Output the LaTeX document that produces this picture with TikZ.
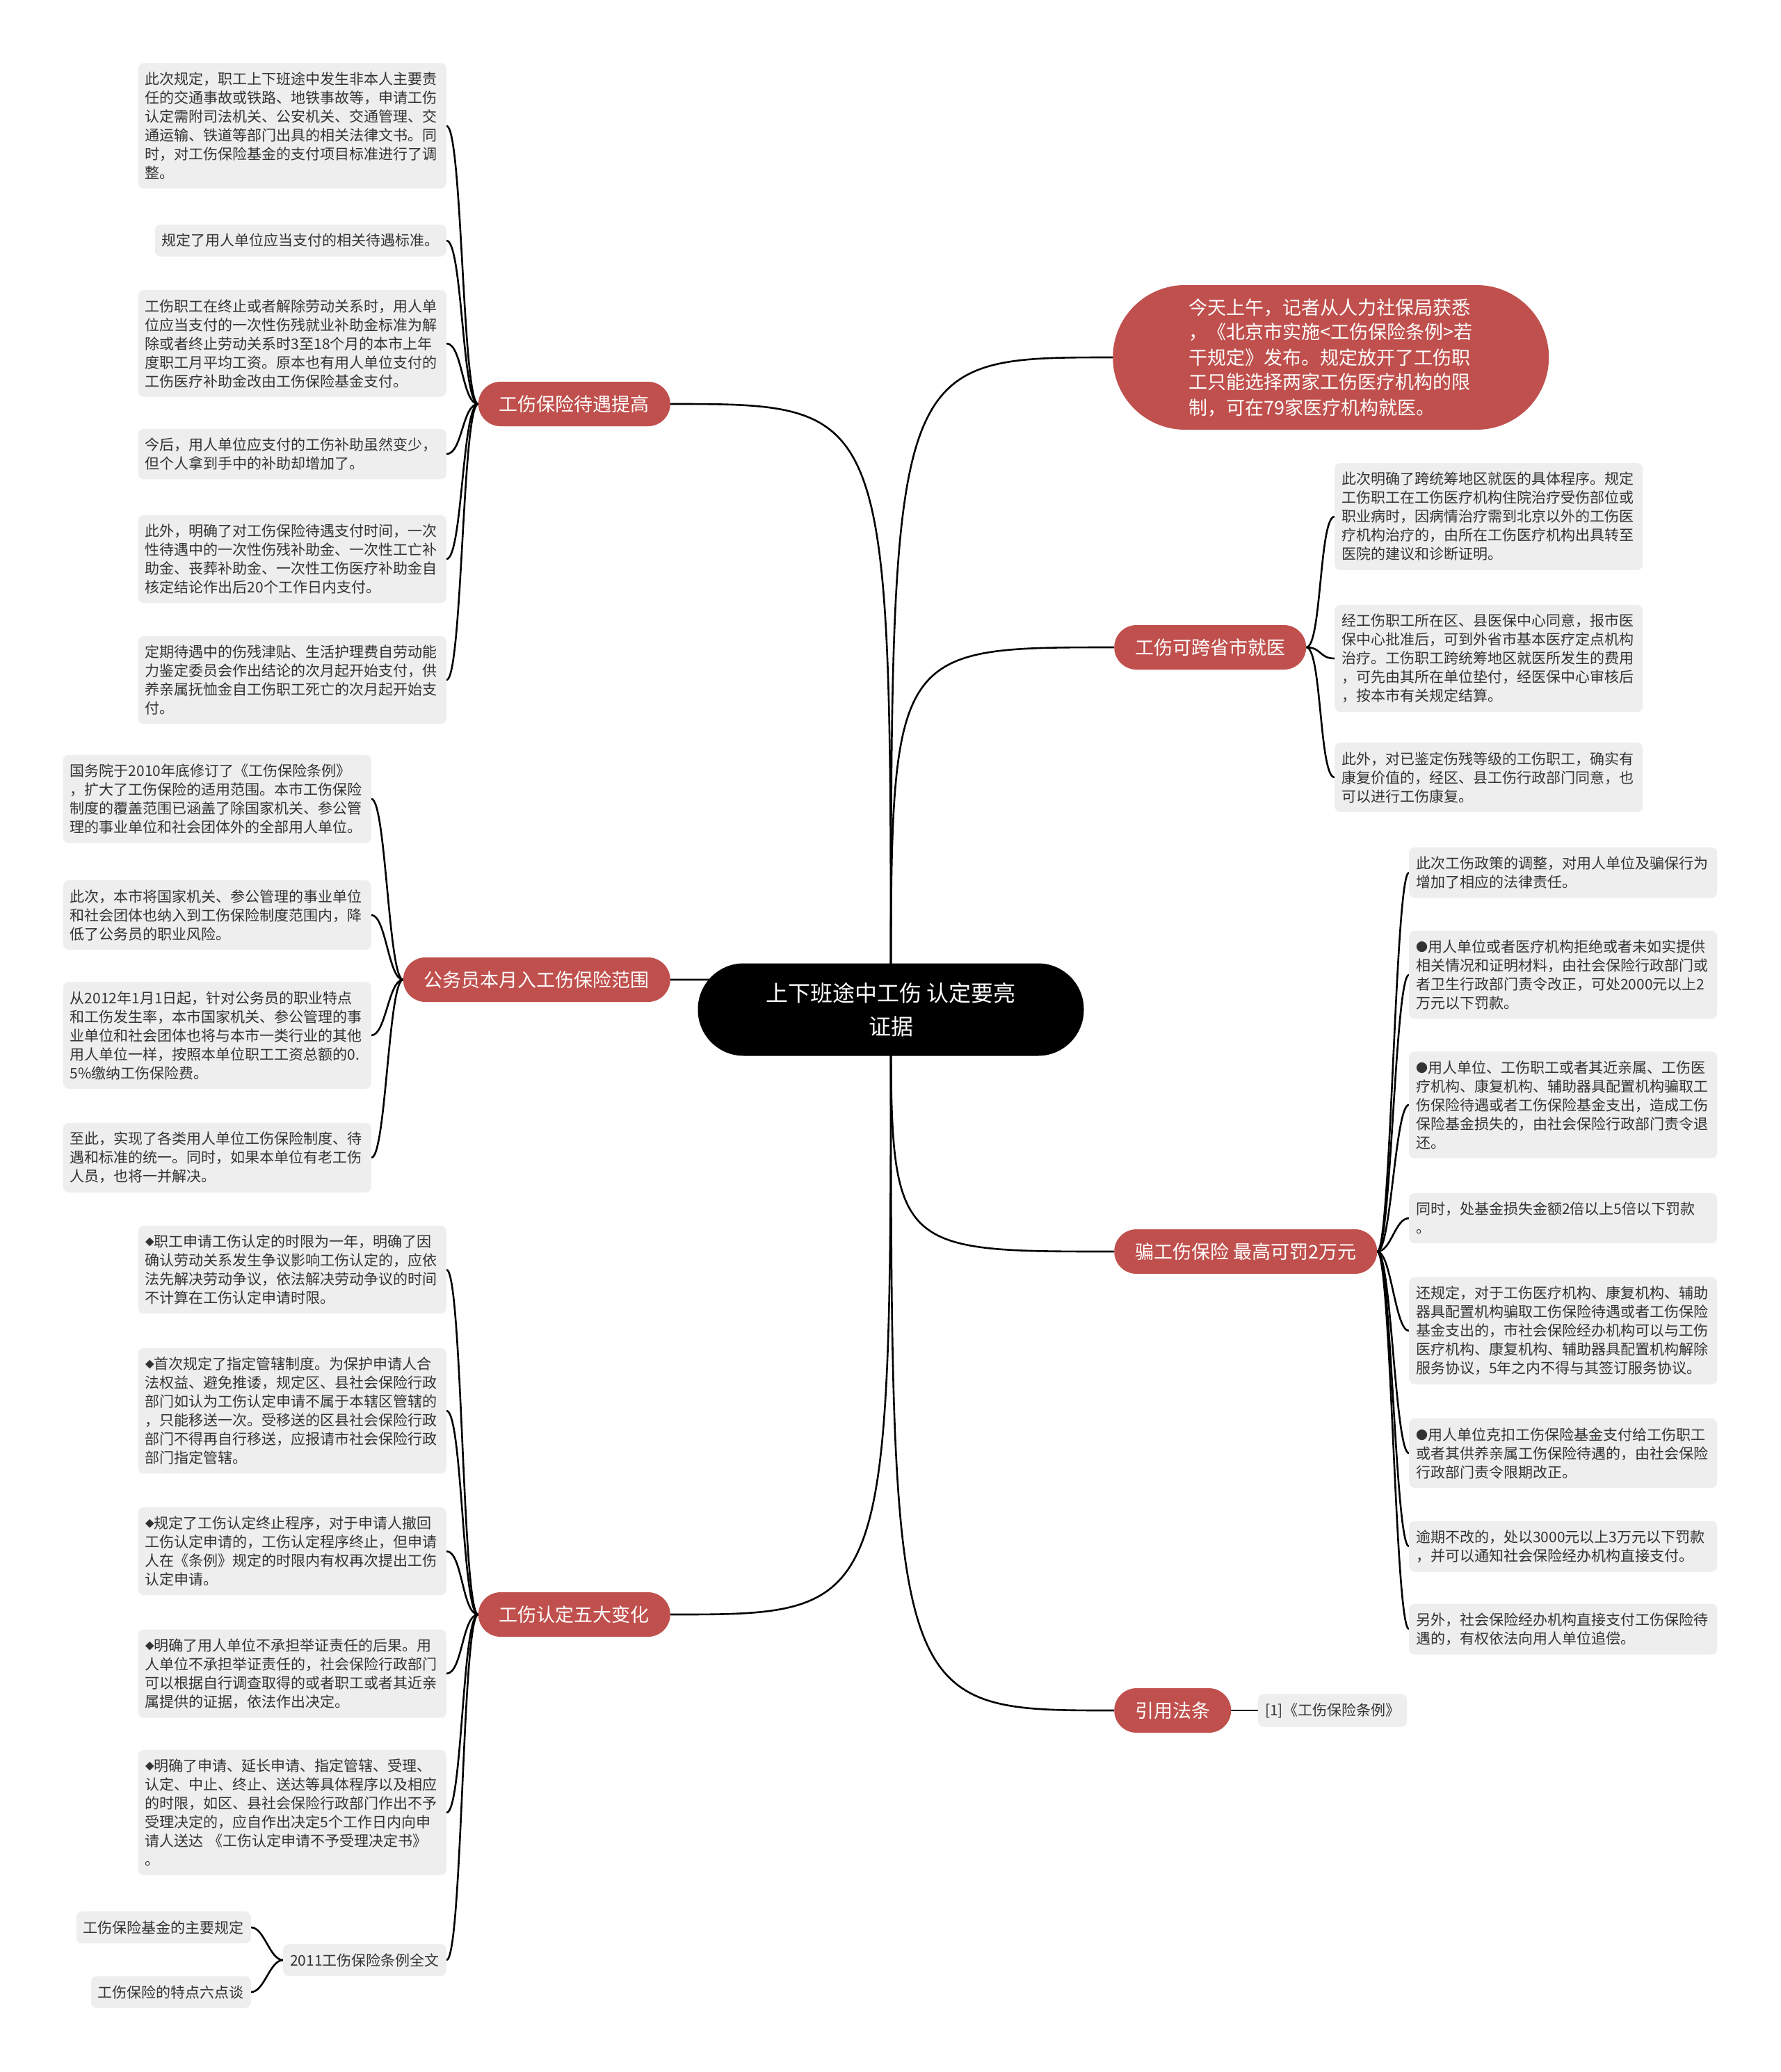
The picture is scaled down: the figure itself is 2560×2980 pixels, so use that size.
\documentclass[tikz,border=0pt]{standalone}
\usepackage{fontspec}
\setmainfont{Noto Sans CJK SC}
\usetikzlibrary{backgrounds}
\definecolor{topicred}{HTML}{C0504D}
\definecolor{leafgray}{HTML}{EEEEEE}
\definecolor{leafink}{HTML}{333333}
\newcommand{\dmd}{\raisebox{2pt}{\fontsize{13}{13}\selectfont ◆}}
\newcommand{\dotb}{\raisebox{1pt}{\fontsize{17}{17}\selectfont ●}}
\begin{document}
\begin{tikzpicture}[
  x=1pt, y=-1pt,
  root/.style={fill=black, text=white, rounded corners=66pt, minimum width=555pt,
               minimum height=133pt, align=center, font=\fontsize{32}{48}\selectfont},
  topic/.style={fill=topicred, text=white, rounded corners=32pt, minimum height=64pt,
                inner xsep=30pt, font=\fontsize{27}{36}\selectfont},
  note/.style={fill=leafgray, text=leafink, rounded corners=8pt, inner xsep=10pt,
               inner ysep=13pt, font=\fontsize{21}{27}\selectfont},
  leaf/.style={note, text width=423pt, align=left},
  link/.style={line width=2.6pt, black},
]
\useasboundingbox (0,0) rectangle (2560,2980);
\node[root] (root) at (1281,1452) {上下班途中工伤 认定要亮\\证据};

\node[topic, anchor=west, rounded corners=104pt, minimum width=627pt, minimum height=208pt, align=left]
  (news) at (1600,514) {今天上午，记者从人力社保局获悉\\，《北京市实施<工伤保险条例>若\\干规定》发布。规定放开了工伤职\\工只能选择两家工伤医疗机构的限\\制，可在79家医疗机构就医。};
\node[topic, anchor=west] (clinic)  at (1602,931)  {工伤可跨省市就医};
\node[topic, anchor=west] (fraud)   at (1602,1800) {骗工伤保险 最高可罚2万元};
\node[topic, anchor=west] (cite)    at (1602,2460) {引用法条};
\node[topic, anchor=east] (benefit) at (964,581)   {工伤保险待遇提高};
\node[topic, anchor=east] (civil)   at (964,1409)  {公务员本月入工伤保险范围};
\node[topic, anchor=east] (ident)   at (964,2322)  {工伤认定五大变化};

\node[leaf, anchor=east] (ben1) at (642,181) {此次规定，职工上下班途中发生非本人主要责\\任的交通事故或铁路、地铁事故等，申请工伤\\认定需附司法机关、公安机关、交通管理、交\\通运输、铁道等部门出具的相关法律文书。同\\时，对工伤保险基金的支付项目标准进行了调\\整。};
\node[note, anchor=east] (ben2) at (642,346) {规定了用人单位应当支付的相关待遇标准。};
\node[leaf, anchor=east] (ben3) at (642,494) {工伤职工在终止或者解除劳动关系时，用人单\\位应当支付的一次性伤残就业补助金标准为解\\除或者终止劳动关系时3至18个月的本市上年\\度职工月平均工资。原本也有用人单位支付的\\工伤医疗补助金改由工伤保险基金支付。};
\node[leaf, anchor=east] (ben4) at (642,653) {今后，用人单位应支付的工伤补助虽然变少，\\但个人拿到手中的补助却增加了。};
\node[leaf, anchor=east] (ben5) at (642,804) {此外，明确了对工伤保险待遇支付时间，一次\\性待遇中的一次性伤残补助金、一次性工亡补\\助金、丧葬补助金、一次性工伤医疗补助金自\\核定结论作出后20个工作日内支付。};
\node[leaf, anchor=east] (ben6) at (642,978) {定期待遇中的伤残津贴、生活护理费自劳动能\\力鉴定委员会作出结论的次月起开始支付，供\\养亲属抚恤金自工伤职工死亡的次月起开始支\\付。};

\node[leaf, anchor=east] (civ1) at (534,1149) {国务院于2010年底修订了《工伤保险条例》\\，扩大了工伤保险的适用范围。本市工伤保险\\制度的覆盖范围已涵盖了除国家机关、参公管\\理的事业单位和社会团体外的全部用人单位。};
\node[leaf, anchor=east] (civ2) at (534,1316) {此次，本市将国家机关、参公管理的事业单位\\和社会团体也纳入到工伤保险制度范围内，降\\低了公务员的职业风险。};
\node[leaf, anchor=east] (civ3) at (534,1489) {从2012年1月1日起，针对公务员的职业特点\\和工伤发生率，本市国家机关、参公管理的事\\业单位和社会团体也将与本市一类行业的其他\\用人单位一样，按照本单位职工工资总额的0.\\5\%缴纳工伤保险费。};
\node[leaf, anchor=east] (civ4) at (534,1665) {至此，实现了各类用人单位工伤保险制度、待\\遇和标准的统一。同时，如果本单位有老工伤\\人员，也将一并解决。};

\node[leaf, anchor=east] (idt1) at (642,1826) {\dmd 职工申请工伤认定的时限为一年，明确了因\\确认劳动关系发生争议影响工伤认定的，应依\\法先解决劳动争议，依法解决劳动争议的时间\\不计算在工伤认定申请时限。};
\node[leaf, anchor=east] (idt2) at (642,2029) {\dmd 首次规定了指定管辖制度。为保护申请人合\\法权益、避免推诿，规定区、县社会保险行政\\部门如认为工伤认定申请不属于本辖区管辖的\\，只能移送一次。受移送的区县社会保险行政\\部门不得再自行移送，应报请市社会保险行政\\部门指定管辖。};
\node[leaf, anchor=east] (idt3) at (642,2231) {\dmd 规定了工伤认定终止程序，对于申请人撤回\\工伤认定申请的，工伤认定程序终止，但申请\\人在《条例》规定的时限内有权再次提出工伤\\认定申请。};
\node[leaf, anchor=east] (idt4) at (642,2407) {\dmd 明确了用人单位不承担举证责任的后果。用\\人单位不承担举证责任的，社会保险行政部门\\可以根据自行调查取得的或者职工或者其近亲\\属提供的证据，依法作出决定。};
\node[leaf, anchor=east] (idt5) at (642,2607) {\dmd 明确了申请、延长申请、指定管辖、受理、\\认定、中止、终止、送达等具体程序以及相应\\的时限，如区、县社会保险行政部门作出不予\\受理决定的，应自作出决定5个工作日内向申\\请人送达 《工伤认定申请不予受理决定书》\\。};
\node[note, anchor=east] (idt6) at (642,2819) {2011工伤保险条例全文};
\node[note, anchor=east] (law1) at (361,2772) {工伤保险基金的主要规定};
\node[note, anchor=east] (law2) at (361,2865) {工伤保险的特点六点谈};

\node[leaf, anchor=west] (cli1) at (1919,743) {此次明确了跨统筹地区就医的具体程序。规定\\工伤职工在工伤医疗机构住院治疗受伤部位或\\职业病时，因病情治疗需到北京以外的工伤医\\疗机构治疗的，由所在工伤医疗机构出具转至\\医院的建议和诊断证明。};
\node[leaf, anchor=west] (cli2) at (1919,947) {经工伤职工所在区、县医保中心同意，报市医\\保中心批准后，可到外省市基本医疗定点机构\\治疗。工伤职工跨统筹地区就医所发生的费用\\，可先由其所在单位垫付，经医保中心审核后\\，按本市有关规定结算。};
\node[leaf, anchor=west] (cli3) at (1919,1118) {此外，对已鉴定伤残等级的工伤职工，确实有\\康复价值的，经区、县工伤行政部门同意，也\\可以进行工伤康复。};

\node[leaf, anchor=west] (frd1) at (2026,1255) {此次工伤政策的调整，对用人单位及骗保行为\\增加了相应的法律责任。};
\node[leaf, anchor=west] (frd2) at (2026,1402) {\dotb 用人单位或者医疗机构拒绝或者未如实提供\\相关情况和证明材料，由社会保险行政部门或\\者卫生行政部门责令改正，可处2000元以上2\\万元以下罚款。};
\node[leaf, anchor=west] (frd3) at (2026,1589) {\dotb 用人单位、工伤职工或者其近亲属、工伤医\\疗机构、康复机构、辅助器具配置机构骗取工\\伤保险待遇或者工伤保险基金支出，造成工伤\\保险基金损失的，由社会保险行政部门责令退\\还。};
\node[leaf, anchor=west] (frd4) at (2026,1752) {同时，处基金损失金额2倍以上5倍以下罚款\\。};
\node[leaf, anchor=west] (frd5) at (2026,1914) {还规定，对于工伤医疗机构、康复机构、辅助\\器具配置机构骗取工伤保险待遇或者工伤保险\\基金支出的，市社会保险经办机构可以与工伤\\医疗机构、康复机构、辅助器具配置机构解除\\服务协议，5年之内不得与其签订服务协议。};
\node[leaf, anchor=west] (frd6) at (2026,2090) {\dotb 用人单位克扣工伤保险基金支付给工伤职工\\或者其供养亲属工伤保险待遇的，由社会保险\\行政部门责令限期改正。};
\node[leaf, anchor=west] (frd7) at (2026,2224) {逾期不改的，处以3000元以上3万元以下罚款\\，并可以通知社会保险经办机构直接支付。};
\node[leaf, anchor=west] (frd8) at (2026,2343) {另外，社会保险经办机构直接支付工伤保险待\\遇的，有权依法向用人单位追偿。};

\node[note, anchor=west] (act1) at (1809,2460) {[1]《工伤保险条例》};

\begin{scope}[on background layer]
\fill[white] (0,0) rectangle (2560,2980);
\foreach \t/\a in {news/west, clinic/west, fraud/west, cite/west, benefit/east, civil/east, ident/east}
  \draw[link] (root.center) .. controls (root.center |- \t.\a) and (root.center |- \t.\a) .. (\t.\a);
\foreach \i in {1,...,6}
  \draw[link] (benefit.west) to[out=180, in=0, distance=23pt] (ben\i.east);
\foreach \i in {1,...,4}
  \draw[link] (civil.west) to[out=180, in=0, distance=21pt] (civ\i.east);
\foreach \i in {1,...,6}
  \draw[link] (ident.west) to[out=180, in=0, distance=23pt] (idt\i.east);
\foreach \i in {1,2}
  \draw[link] (idt6.west) to[out=180, in=0, distance=19pt] (law\i.east);
\foreach \i in {1,...,3}
  \draw[link] (clinic.east) to[out=0, in=180, distance=22pt] (cli\i.west);
\foreach \i in {1,...,8}
  \draw[link] (fraud.east) to[out=0, in=180, distance=20pt] (frd\i.west);
\draw[link] (cite) -- (act1);
\end{scope}
\end{tikzpicture}
\end{document}
